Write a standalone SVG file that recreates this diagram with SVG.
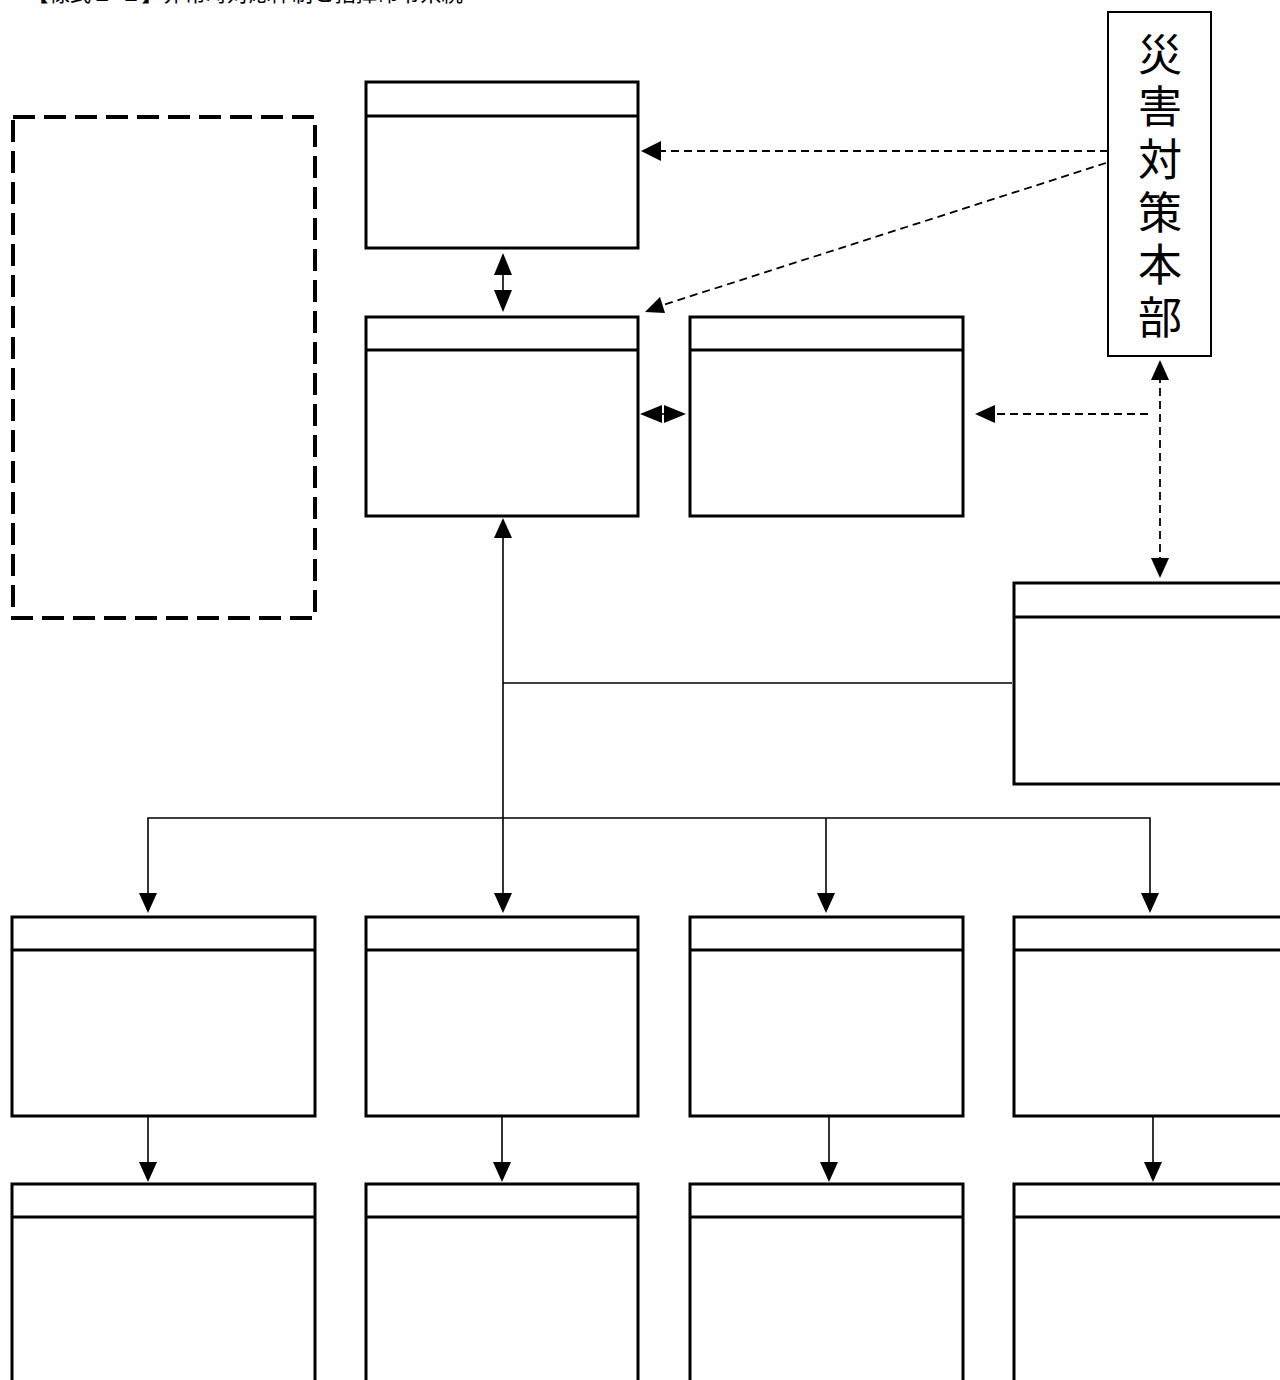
<svg xmlns="http://www.w3.org/2000/svg" width="1280" height="1380" viewBox="0 0 1280 1380">
<defs>
<style>
.box{fill:#fff;stroke:#000;stroke-width:3}
.hdr{stroke:#000;stroke-width:3}
.ln{fill:none;stroke:#000;stroke-width:1.6}
.dl{fill:none;stroke:#000;stroke-width:1.8;stroke-dasharray:8 5}
.t{font-family:"Noto Sans CJK JP","Noto Sans",sans-serif;fill:#000}
</style>
</defs>
<rect width="1280" height="1380" fill="#fff"/>
<text class="t" x="27" y="1" font-size="22" textLength="436" lengthAdjust="spacingAndGlyphs">【様式１-２】非常時対応体制と指揮命令系統</text>

<g id="dashed-box">
<rect x="13" y="117" width="302" height="501" fill="none" stroke="#000" stroke-width="4" stroke-dasharray="22 9"/>
</g>
<g id="box-a"><rect class="box" x="366" y="82" width="272" height="166"/><line class="hdr" x1="366" y1="116" x2="638" y2="116"/></g>
<g id="box-b"><rect class="box" x="366" y="317" width="272" height="199"/><line class="hdr" x1="366" y1="350" x2="638" y2="350"/></g>
<g id="box-c"><rect class="box" x="690" y="317" width="273" height="199"/><line class="hdr" x1="690" y1="350" x2="963" y2="350"/></g>
<g id="hq"><rect x="1108" y="12" width="103" height="344" fill="#fff" stroke="#000" stroke-width="2"/>
<text class="t" x="1160" y="32" font-size="44" writing-mode="vertical-rl" letter-spacing="8.6">災害対策本部</text></g>
<g id="box-d"><rect class="box" x="1014" y="583" width="280" height="201"/><line class="hdr" x1="1014" y1="617" x2="1294" y2="617"/></g>
<g id="r1-1"><rect class="box" x="12" y="917" width="303" height="199"/><line class="hdr" x1="12" y1="950" x2="315" y2="950"/></g>
<g id="r1-2"><rect class="box" x="366" y="917" width="272" height="199"/><line class="hdr" x1="366" y1="950" x2="638" y2="950"/></g>
<g id="r1-3"><rect class="box" x="690" y="917" width="273" height="199"/><line class="hdr" x1="690" y1="950" x2="963" y2="950"/></g>
<g id="r1-4"><rect class="box" x="1014" y="917" width="280" height="199"/><line class="hdr" x1="1014" y1="950" x2="1294" y2="950"/></g>
<g id="r2-1"><rect class="box" x="12" y="1184" width="303" height="220"/><line class="hdr" x1="12" y1="1217" x2="315" y2="1217"/></g>
<g id="r2-2"><rect class="box" x="366" y="1184" width="272" height="220"/><line class="hdr" x1="366" y1="1217" x2="638" y2="1217"/></g>
<g id="r2-3"><rect class="box" x="690" y="1184" width="273" height="220"/><line class="hdr" x1="690" y1="1217" x2="963" y2="1217"/></g>
<g id="r2-4"><rect class="box" x="1014" y="1184" width="280" height="220"/><line class="hdr" x1="1014" y1="1217" x2="1294" y2="1217"/></g>

<g id="connectors">
<line class="dl" x1="1108" y1="151" x2="655" y2="151"/>
<path d="M641,151 L661,141 L661,161 z"/>
<line class="dl" x1="1106" y1="163" x2="660" y2="306"/>
<path d="M645,312 L660,297 L665,313 z"/>
<line class="ln" x1="503" y1="270" x2="503" y2="296"/>
<path d="M503,253 L494,275 L512,275 z"/><path d="M503,312 L494,290 L512,290 z"/>
<line class="ln" x1="655" y1="414" x2="672" y2="414"/>
<path d="M640,414 L662,405 L662,423 z"/><path d="M686,414 L664,405 L664,423 z"/>
<line class="dl" x1="1148" y1="414" x2="990" y2="414"/>
<path d="M975,414 L995,405 L995,423 z"/>
<line class="dl" x1="1160" y1="375" x2="1160" y2="562"/>
<path d="M1160,360 L1151,380 L1169,380 z"/><path d="M1160,578 L1151,558 L1169,558 z"/>
<line class="ln" x1="503" y1="535" x2="503" y2="896"/>
<path d="M503,518 L494,538 L512,538 z"/><path d="M503,913 L494,893 L512,893 z"/>
<line class="ln" x1="503" y1="683" x2="1012" y2="683"/>
<polyline class="ln" points="148,896 148,818 1150,818 1150,896"/>
<path d="M148,913 L139,893 L157,893 z"/>
<line class="ln" x1="826" y1="818" x2="826" y2="896"/>
<path d="M826,913 L817,893 L835,893 z"/>
<path d="M1150,913 L1141,893 L1159,893 z"/>
<line class="ln" x1="148" y1="1116" x2="148" y2="1165"/><path d="M148,1182 L139,1162 L157,1162 z"/>
<line class="ln" x1="502" y1="1116" x2="502" y2="1165"/><path d="M502,1182 L493,1162 L511,1162 z"/>
<line class="ln" x1="829" y1="1116" x2="829" y2="1165"/><path d="M829,1182 L820,1162 L838,1162 z"/>
<line class="ln" x1="1153" y1="1116" x2="1153" y2="1165"/><path d="M1153,1182 L1144,1162 L1162,1162 z"/>
</g>
</svg>
